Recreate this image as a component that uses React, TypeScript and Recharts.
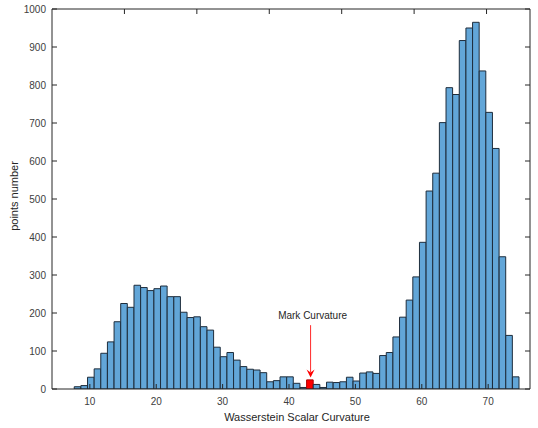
import React from 'react';
import { ComposedChart, Bar, Cell, XAxis, YAxis, ReferenceLine, ReferenceDot } from 'recharts';

// histogram bins (width 1), counts
const binStart = 7.65;
const binWidth = 1;
const counts = [
  6, 9, 31, 53, 94, 124, 177, 225, 215, 273,
  267, 259, 264, 271, 243, 243, 202, 188, 190, 164,
  155, 110, 85, 96, 76, 59, 52, 50, 43, 19,
  22, 32, 32, 15, 4, 24, 12, 4, 18, 17,
  19, 31, 21, 42, 45, 41, 88, 96, 137, 189,
  234, 295, 386, 521, 568, 701, 793, 775, 917, 950,
  965, 837, 728, 633, 348, 141, 32,
];
const markIndex = 35;
const markX = 43.25;
const arrowTop = 168;
const arrowTip = 30;

const xDomain = [4.3, 76.3];
const xTicks = [10, 20, 30, 40, 50, 60, 70];
const yTicks = [0, 100, 200, 300, 400, 500, 600, 700, 800, 900, 1000];

const xTitle = 'Wasserstein Scalar Curvature';
const yTitle = 'points number';
const markLabel = 'Mark Curvature';

const W = 538;
const H = 428;
const LEFT = 52;
const RIGHT = 8;
const TOP = 9;
const BOTTOM = 39;
const plotWidth = W - LEFT - RIGHT;
const barPx = (plotWidth * binWidth) / (xDomain[1] - xDomain[0]) - 0.05;

const data = counts.map((c, i) => ({ x: binStart + binWidth * (i + 0.5), count: c }));

const axisColor = '#262626';
const labelColor = '#404040';
const tickStyle = { fontSize: 10, fill: labelColor };

const XTitle = ({ viewBox }: any) => (
  <text x={viewBox.x + viewBox.width / 2 + 6} y={viewBox.y + 32} textAnchor="middle" fontSize={11} fill={axisColor}>
    {xTitle}
  </text>
);

const YTitle = ({ viewBox }: any) => {
  const cx = viewBox.x + 14;
  const cy = viewBox.y + viewBox.height / 2 - 3;
  return (
    <text x={cx} y={cy} transform={`rotate(-90 ${cx} ${cy})`} textAnchor="middle" dominantBaseline="central" fontSize={11} fill={axisColor}>
      {yTitle}
    </text>
  );
};

const ArrowHead = ({ cx, cy }: any) => (
  <path d={`M${cx},${cy} L${cx - 4},${cy - 8} L${cx},${cy - 5} L${cx + 4},${cy - 8} Z`} fill="#ff0000" />
);

export default function App() {
  return (
    <div style={{ position: 'absolute', left: 0, top: 0, background: '#fff', fontFamily: 'Arial, "Liberation Sans", Helvetica, sans-serif' }}>
      <ComposedChart width={W} height={H} data={data} margin={{ top: 0, right: 0, bottom: 0, left: 0 }}>
        <XAxis
          dataKey="x"
          type="number"
          domain={xDomain}
          ticks={xTicks}
          allowDataOverflow
          height={BOTTOM}
          tickSize={-5}
          tickMargin={14}
          tick={tickStyle}
          stroke={axisColor}
          label={XTitle}
        />
        <XAxis
          xAxisId="top"
          orientation="top"
          type="number"
          domain={xDomain}
          ticks={xTicks}
          allowDataOverflow
          height={TOP}
          tickSize={-5}
          tickFormatter={() => ''}
          stroke={axisColor}
        />
        <YAxis
          type="number"
          domain={[0, 1000]}
          ticks={yTicks}
          allowDataOverflow
          width={LEFT}
          tickSize={-5}
          tickMargin={11}
          tick={tickStyle}
          stroke={axisColor}
          label={YTitle}
        />
        <YAxis
          yAxisId="right"
          orientation="right"
          type="number"
          domain={[0, 1000]}
          ticks={yTicks}
          allowDataOverflow
          width={RIGHT}
          tickSize={-5}
          tickFormatter={() => ''}
          stroke={axisColor}
        />
        <Bar dataKey="count" barSize={barPx} fill="#62a6d8" stroke="#1e2d3c" strokeWidth={1} isAnimationActive={false}>
          {data.map((d, i) => (
            <Cell key={i} fill={i === markIndex ? '#ff0000' : '#62a6d8'} stroke={i === markIndex ? '#b00000' : '#1e2d3c'} />
          ))}
        </Bar>
        <ReferenceLine
          segment={[{ x: markX, y: arrowTop }, { x: markX, y: arrowTip + 14 }]}
          stroke="#ff2a2a"
          strokeWidth={1}
          label={{ value: markLabel, position: 'top', offset: 6, fontSize: 10, fill: axisColor, dx: 2 }}
        />
        <ReferenceDot x={markX} y={arrowTip} r={4} shape={ArrowHead} />
      </ComposedChart>
    </div>
  );
}
